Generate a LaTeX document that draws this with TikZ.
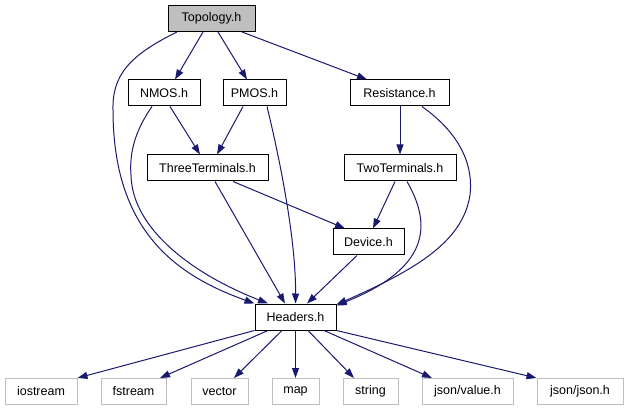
\documentclass[tikz,border=0pt]{standalone}
\usepackage{fontspec}
\setmainfont{Liberation Sans}
\usetikzlibrary{arrows.meta}
\definecolor{edgeblue}{HTML}{191970}
\definecolor{extgray}{HTML}{BFBFBF}
\tikzset{
  box/.style={draw=black, line width=1pt, fill=white, inner sep=0pt,
    minimum height=26pt, font=\fontsize{12.5}{15}\selectfont, text=black},
  rootbox/.style={box, fill=extgray},
  extbox/.style={box, draw=extgray},
  edge/.style={draw=edgeblue, line width=1pt,
    -{Triangle[length=10pt,width=7pt]}, color=edgeblue}
}
\begin{document}
\begin{tikzpicture}[x=1pt,y=-1pt]
\useasboundingbox (0,0) rectangle (628,411);
% nodes
\node[rootbox, minimum width=87pt] (topo) at (211.5,18.5) {Topology.h};
\node[box, minimum width=72pt] (nmos) at (164,93) {NMOS.h};
\node[box, minimum width=63pt] (pmos) at (254.5,93) {PMOS.h};
\node[box, minimum width=99pt] (res) at (399.5,93) {Resistance.h};
\node[box, minimum width=121pt] (three) at (207.5,168) {ThreeTerminals.h};
\node[box, minimum width=112pt] (two) at (400,168) {TwoTerminals.h};
\node[box, minimum width=71pt] (dev) at (368.5,242) {Device.h};
\node[box, minimum width=81pt] (hdr) at (295.5,317) {Headers.h};
\node[extbox, minimum width=72pt] (ios) at (41,391.5) {iostream};
\node[extbox, minimum width=65pt] (fst) at (133.5,391.5) {fstream};
\node[extbox, minimum width=57pt] (vec) at (219.5,391.5) {vector};
\node[extbox, minimum width=47pt] (map) at (295.5,391.5) {map};
\node[extbox, minimum width=55pt] (str) at (370.5,391.5) {string};
\node[extbox, minimum width=91pt] (jval) at (467.5,391.5) {json/value.h};
\node[extbox, minimum width=86pt] (jjson) at (580,391.5) {json/json.h};
% edges from Topology
\draw[edge] ([xshift=-8.5pt]topo.south) -- ([xshift=11pt]nmos.north);
\draw[edge] ([xshift=6.5pt]topo.south) -- ([xshift=-7.5pt]pmos.north);
\draw[edge] ([xshift=30.5pt]topo.south) -- ([xshift=-32.5pt]res.north);
\draw[edge] ([xshift=-34.5pt]topo.south) .. controls (130,55) and (112,75) .. (113,110)
  .. controls (113,230) and (175,275) .. (hdr.north west);
% NMOS
\draw[edge] ([xshift=6pt]nmos.south) -- ([xshift=-7.5pt]three.north);
\draw[edge] ([xshift=-12pt]nmos.south) .. controls (137,128) and (129,150) .. (131,175)
  .. controls (132,230) and (195,275) .. ([xshift=-27.5pt]hdr.north);
% PMOS
\draw[edge] ([xshift=-11.5pt]pmos.south) -- ([xshift=9.5pt]three.north);
\draw[edge] ([xshift=12.5pt]pmos.south) .. controls (280,160) and (296,240) .. (hdr.north);
% Resistance
\draw[edge] ([xshift=0.5pt]res.south) -- (two.north);
\draw[edge] ([xshift=22.5pt]res.south) .. controls (455,130) and (474,160) .. (470,195)
  .. controls (463,240) and (420,268) .. ([yshift=-1pt]hdr.north east);
% ThreeTerminals
\draw[edge] ([xshift=25.5pt]three.south) -- ([xshift=-23.5pt]dev.north);
\draw[edge] ([xshift=7.5pt]three.south) -- ([xshift=-10.5pt]hdr.north);
% TwoTerminals
\draw[edge] ([xshift=-5pt]two.south) -- ([xshift=4.5pt]dev.north);
\draw[edge] ([xshift=7pt]two.south) .. controls (432,225) and (430,268) .. ([yshift=-2pt]hdr.north east);
% Device
\draw[edge] ([xshift=-11.5pt]dev.south) -- ([xshift=11.5pt]hdr.north);
% Headers to externals
\draw[edge] (hdr.south west) -- (ios.north east);
\draw[edge] ([xshift=-27.5pt]hdr.south) -- ([xshift=26.5pt]fst.north);
\draw[edge] ([xshift=-13.5pt]hdr.south) -- ([xshift=14.5pt]vec.north);
\draw[edge] (hdr.south) -- (map.north);
\draw[edge] ([xshift=12.5pt]hdr.south) -- ([xshift=-16.5pt]str.north);
\draw[edge] ([xshift=28.5pt]hdr.south) -- ([xshift=-35.5pt]jval.north);
\draw[edge] (hdr.south east) -- (jjson.north west);
\end{tikzpicture}
\end{document}
